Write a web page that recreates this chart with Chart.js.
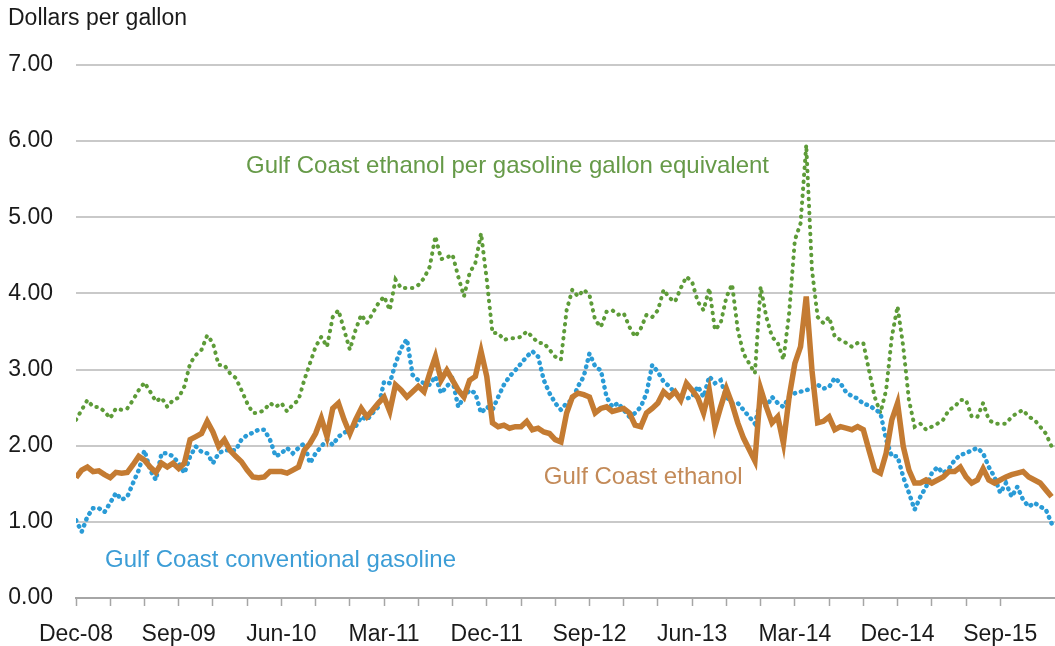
<!DOCTYPE html>
<html>
<head>
<meta charset="utf-8">
<script src="https://cdn.jsdelivr.net/npm/chart.js@4/dist/chart.umd.min.js"></script>
<style>
  html, body { margin: 0; padding: 0; background: #ffffff; }
  #wrap { width: 1055px; height: 646px; position: relative; }
  canvas { display: block; }
</style>
</head>
<body>
<div id="wrap"><canvas id="c" width="1055" height="646"></canvas></div>
<script>
// Semi-monthly observations starting Dec-08 (index i => i/2 months after Dec-08)
const STEP_MONTHS = 0.5;

const tickLabels = ['Dec-08','Sep-09','Jun-10','Mar-11','Dec-11','Sep-12','Jun-13','Mar-14','Dec-14','Sep-15'];
const yTicks = [0, 1, 2, 3, 4, 5, 6, 7];

const ethanol = [
 1.58,1.68,1.72,1.66,1.67,1.62,1.58,1.65,1.64,1.65,
 1.75,1.86,1.81,1.72,1.65,1.77,1.72,1.77,1.70,1.77,
 2.08,2.12,2.16,2.32,2.18,1.99,2.08,1.94,1.86,1.79,
 1.68,1.59,1.58,1.59,1.66,1.66,1.66,1.64,1.68,1.72,
 1.94,2.03,2.16,2.36,2.12,2.49,2.56,2.34,2.16,2.34,
 2.49,2.38,2.47,2.56,2.64,2.45,2.80,2.73,2.64,2.71,
 2.78,2.71,2.95,3.17,2.86,2.99,2.86,2.73,2.64,2.86,
 2.91,3.24,2.91,2.30,2.25,2.27,2.23,2.25,2.25,2.32,
 2.21,2.23,2.18,2.16,2.08,2.05,2.43,2.64,2.69,2.67,
 2.64,2.43,2.49,2.51,2.45,2.47,2.49,2.43,2.27,2.25,
 2.43,2.49,2.56,2.71,2.64,2.71,2.60,2.82,2.73,2.63,
 2.43,2.73,2.25,2.51,2.75,2.55,2.30,2.10,1.95,1.80,
 2.75,2.51,2.30,2.38,2.03,2.64,3.08,3.30,3.96,2.99,
 2.30,2.32,2.38,2.21,2.25,2.23,2.21,2.25,2.21,1.94,
 1.68,1.64,1.90,2.34,2.56,1.99,1.68,1.51,1.51,1.55,
 1.51,1.55,1.59,1.66,1.66,1.72,1.59,1.51,1.55,1.70,
 1.55,1.51,1.55,1.59,1.62,1.64,1.66,1.59,1.55,1.51,
 1.42,1.33
];

const gasoline = [
 1.02,0.87,1.07,1.18,1.18,1.13,1.25,1.38,1.29,1.33,
 1.51,1.68,1.94,1.68,1.55,1.90,1.90,1.86,1.77,1.64,
 1.86,1.99,1.92,1.90,1.77,1.90,1.94,1.94,1.94,2.08,
 2.14,2.17,2.21,2.21,2.08,1.86,1.90,1.97,1.90,1.97,
 2.03,1.77,1.90,1.99,2.08,2.01,2.12,2.17,2.21,2.25,
 2.38,2.34,2.43,2.51,2.84,2.82,3.08,3.28,3.40,2.93,
 2.86,2.82,2.80,2.91,2.69,2.78,2.86,2.51,2.64,2.73,
 2.69,2.43,2.51,2.47,2.64,2.80,2.91,2.99,3.08,3.17,
 3.24,3.17,2.86,2.69,2.56,2.47,2.56,2.60,2.78,2.91,
 3.21,3.04,2.99,2.64,2.51,2.56,2.47,2.38,2.43,2.51,
 2.69,3.06,2.97,2.84,2.78,2.69,2.64,2.62,2.64,2.78,
 2.64,2.91,2.82,2.86,2.64,2.56,2.56,2.47,2.38,2.29,
 2.60,2.51,2.64,2.56,2.51,2.64,2.69,2.71,2.73,2.75,
 2.80,2.75,2.77,2.89,2.82,2.70,2.65,2.62,2.55,2.53,
 2.48,2.43,2.08,1.86,1.86,1.59,1.38,1.16,1.33,1.46,
 1.64,1.72,1.64,1.70,1.81,1.88,1.90,1.94,1.97,1.90,
 1.72,1.59,1.38,1.51,1.33,1.46,1.29,1.20,1.25,1.20,
 1.16,0.98
];

const ethanolGGE = [
 2.34,2.47,2.60,2.51,2.51,2.45,2.36,2.49,2.47,2.49,
 2.60,2.73,2.83,2.71,2.58,2.63,2.51,2.60,2.63,2.78,
 3.08,3.19,3.26,3.45,3.35,3.06,3.06,2.95,2.89,2.73,
 2.56,2.43,2.43,2.47,2.56,2.51,2.56,2.45,2.54,2.60,
 2.86,3.08,3.30,3.43,3.30,3.69,3.78,3.52,3.26,3.52,
 3.72,3.61,3.74,3.87,3.96,3.78,4.18,4.07,4.07,4.07,
 4.11,4.20,4.35,4.75,4.45,4.47,4.51,4.22,3.96,4.27,
 4.40,4.79,4.18,3.48,3.48,3.39,3.41,3.41,3.43,3.50,
 3.43,3.35,3.35,3.26,3.17,3.13,3.78,4.05,3.96,4.05,
 3.98,3.65,3.56,3.76,3.78,3.72,3.74,3.56,3.43,3.54,
 3.72,3.69,3.78,4.05,3.94,3.89,4.07,4.22,4.15,3.89,
 3.78,4.07,3.52,3.61,3.95,4.12,3.52,3.21,3.08,2.95,
 4.09,3.69,3.43,3.35,3.13,3.74,4.70,4.92,5.95,4.31,
 3.69,3.61,3.69,3.43,3.39,3.35,3.30,3.35,3.35,2.99,
 2.64,2.43,2.73,3.43,3.83,3.30,2.60,2.25,2.29,2.21,
 2.25,2.29,2.34,2.47,2.51,2.60,2.60,2.38,2.38,2.56,
 2.34,2.29,2.29,2.29,2.38,2.43,2.47,2.38,2.34,2.25,
 2.16,1.99
];

const seriesNames = [
  'Gulf Coast ethanol per gasoline gallon equivalent',
  'Gulf Coast ethanol',
  'Gulf Coast conventional gasoline'
];

const toPoints = arr => arr.map((v, i) => ({ x: i * STEP_MONTHS, y: v }));

const FONT = '"Liberation Sans", Arial, sans-serif';

const labelPlugin = {
  id: 'seriesLabels',
  afterDatasetsDraw(chart) {
    const { ctx, scales } = chart;
    const xs = scales.x, ys = scales.y;
    const items = [
      { text: seriesNames[0], m: 14.9, v: 5.67, color: '#669a48' },
      { text: seriesNames[1], m: 41.0, v: 1.59, color: '#c38a58' },
      { text: seriesNames[2], m: 2.55, v: 0.49, color: '#3c9dd6' }
    ];
    ctx.save();
    ctx.font = '24px ' + FONT;
    ctx.textAlign = 'left';
    ctx.textBaseline = 'middle';
    items.forEach(it => {
      ctx.fillStyle = it.color;
      ctx.fillText(it.text, xs.getPixelForValue(it.m), ys.getPixelForValue(it.v));
    });
    ctx.fillStyle = '#1a1a1a';
    ctx.font = '23px ' + FONT;
    ctx.fillText('Dollars per gallon', 8, 19);
    ctx.restore();
  }
};

new Chart(document.getElementById('c'), {
  type: 'line',
  data: {
    datasets: [
      {
        label: seriesNames[1],
        data: toPoints(ethanol),
        borderColor: '#c47b32',
        borderWidth: 5.5,
        pointRadius: 0,
        tension: 0,
        order: 1
      },
      {
        label: seriesNames[2],
        data: toPoints(gasoline),
        borderColor: '#2a9bd6',
        borderWidth: 4.5,
        borderDash: [0.5, 6],
        borderCapStyle: 'round',
        pointRadius: 0,
        tension: 0,
        order: 2
      },
      {
        label: seriesNames[0],
        data: toPoints(ethanolGGE),
        borderColor: '#5d9b38',
        borderWidth: 4,
        borderDash: [0.5, 6.5],
        borderCapStyle: 'round',
        pointRadius: 0,
        tension: 0,
        order: 3
      }
    ]
  },
  options: {
    responsive: false,
    animation: false,
    devicePixelRatio: 1,
    layout: { padding: { top: 65, right: 0, left: 0, bottom: 0 } },
    plugins: { legend: { display: false }, tooltip: { enabled: false }, title: { display: false } },
    scales: {
      x: {
        type: 'linear',
        min: 0,
        max: 85.8,
        afterBuildTicks: scale => {
          scale.ticks = scale.ticks.filter(t => Math.abs(t.value / 3 - Math.round(t.value / 3)) < 1e-6);
        },
        afterFit: scale => { scale.height = 48; },
        ticks: {
          stepSize: 3,
          autoSkip: false,
          maxRotation: 0,
          minRotation: 0,
          padding: 15,
          color: '#1a1a1a',
          font: { family: FONT, size: 23 },
          callback: v => (Math.round(v) % 9 === 0 ? tickLabels[Math.round(v) / 9] : '')
        },
        grid: {
          drawOnChartArea: false,
          drawTicks: true,
          tickLength: 8,
          tickColor: '#a6a6a6',
          tickWidth: 1.5
        },
        border: { display: true, color: '#a6a6a6', width: 2 }
      },
      y: {
        min: 0,
        max: 7,
        afterBuildTicks: scale => { scale.ticks = yTicks.map(v => ({ value: v })); },
        afterFit: scale => { scale.width = 76; },
        ticks: {
          padding: 23,
          color: '#1a1a1a',
          font: { family: FONT, size: 23 },
          callback: v => Number(v).toFixed(2)
        },
        grid: {
          drawTicks: false,
          color: ctx => (ctx.tick && ctx.tick.value === 0 ? 'rgba(0,0,0,0)' : '#c9c9c9'),
          lineWidth: 2
        },
        border: { display: false }
      }
    }
  },
  plugins: [labelPlugin]
});
</script>
</body>
</html>
